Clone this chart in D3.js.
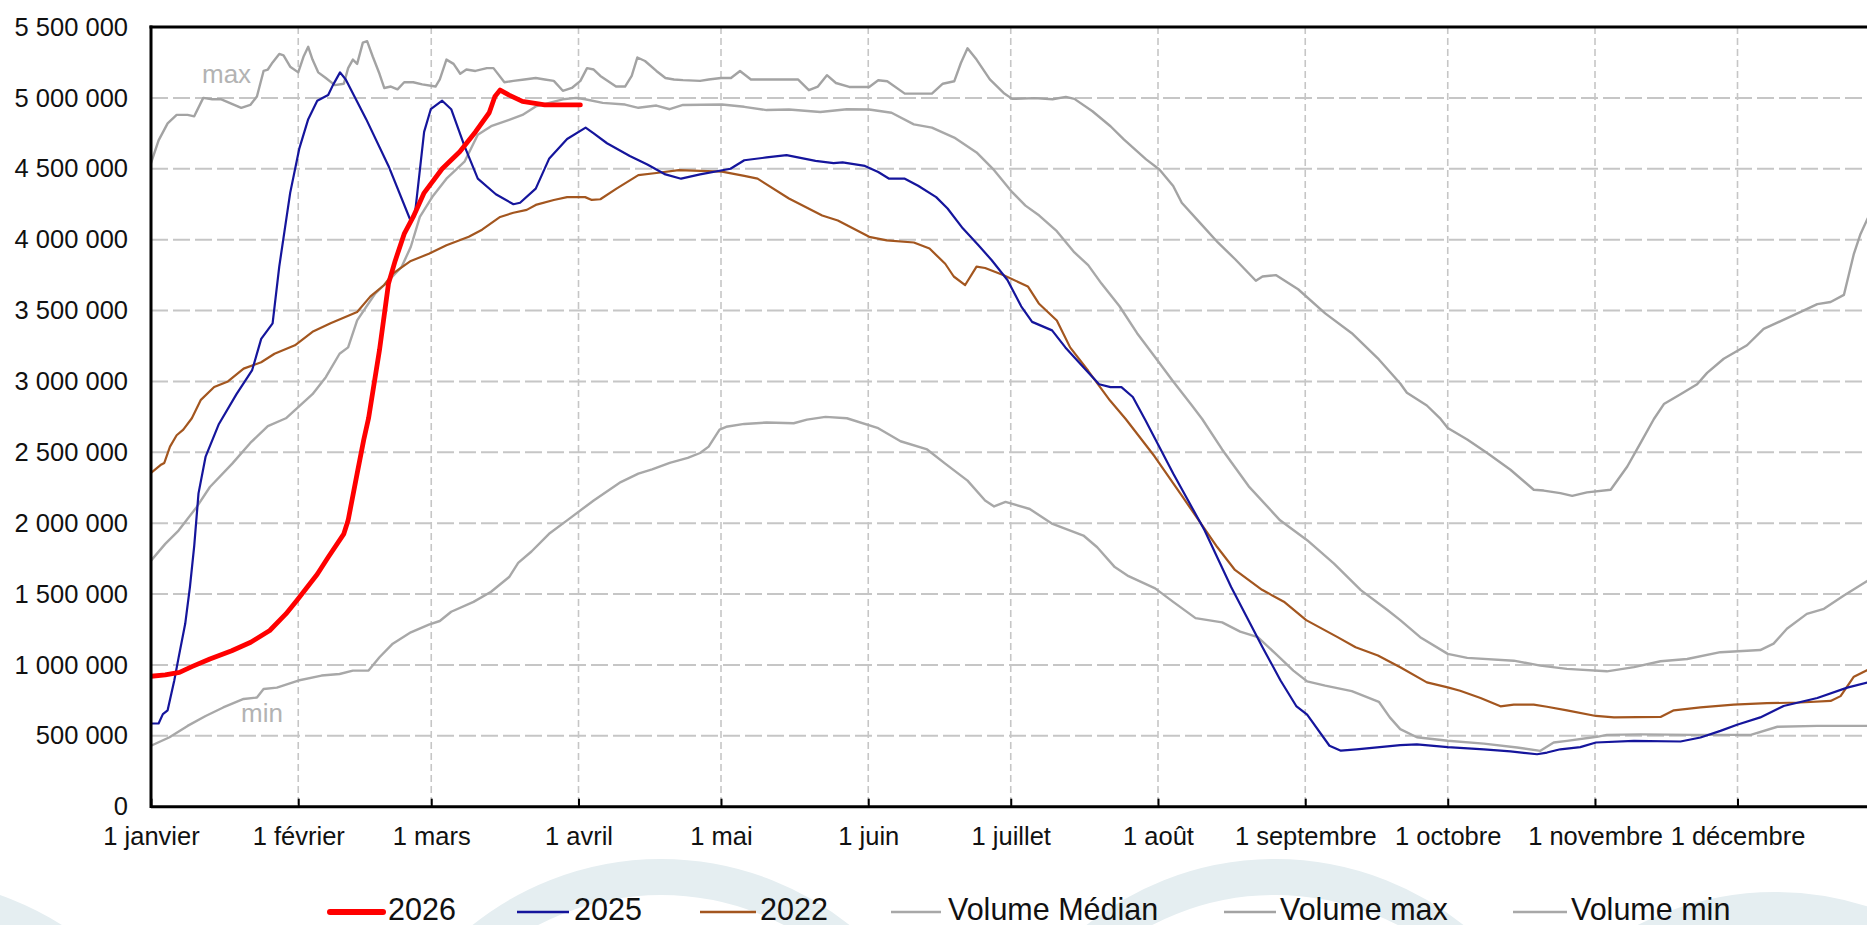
<!DOCTYPE html>
<html><head><meta charset="utf-8">
<script src="https://cdn.jsdelivr.net/npm/d3@7"></script>
<style>
html,body{margin:0;padding:0;background:#fff;overflow:hidden}
svg{display:block;font-family:"Liberation Sans",Arial,sans-serif}
</style></head><body>
<svg id="chart" width="1867" height="925"></svg>
<script>
// ---------- data (day of year, value in thousands of m3) ----------
const monthDays   = [0,31,59,90,120,151,181,212,243,273,304,334];
const monthLabels = ["1 janvier","1 février","1 mars","1 avril","1 mai","1 juin","1 juillet","1 août","1 septembre","1 octobre","1 novembre","1 décembre"];
const yTicks      = [0,500000,1000000,1500000,2000000,2500000,3000000,3500000,4000000,4500000,5000000,5500000];

const days2026 = [0,3,6,8.6,12.4,17,21,25,28.4,30.7,35,37.3,40.6,41.5,43.4,44.8,45.8,48.1,50,51.4,53.3,55.2,57.5,61.3,65,68.3,71.2,72.4,73.5,75.4,78.2,82.9,90.4];
const vals2026 = [920,930,948,988,1042,1100,1160,1243,1360,1455,1640,1760,1925,2020,2350,2590,2740,3220,3690,3850,4040,4160,4330,4500,4620,4760,4895,5010,5055,5020,4975,4950,4950];

const days2025 = [0,1.6,2.5,3.5,4.9,5.8,7.2,8.2,9.1,10,11.5,14.3,18,21.3,23.2,25.6,27,29.3,31.2,33.1,35,37.3,38.3,39.8,41,45.3,50,54.7,55.6,57.5,58.9,61.3,63.2,66,68.8,72.6,76.3,77.7,81,83.8,87.6,91.5,93.2,96,100.8,104.5,108.3,111.6,115.6,122,124.9,129.6,133.8,139.9,143.7,145.6,150.3,153.1,155.4,158.7,161.5,165.3,167.7,170.9,174.2,177,180.3,183.2,185.5,189.7,192.5,196.3,199.6,202,204.3,206.7,209.3,215.2,221.8,227.4,234,237.8,241.1,243.4,248.1,250.5,253.8,263,266.5,273,280.6,286.2,291.8,293.9,296.7,300.9,304.2,312.2,322,326.2,330.4,333.9,338.8,343.7,350.8,357.1,361.4,365];
const vals2025 = [587,587,653,680,890,1050,1290,1550,1840,2210,2470,2700,2910,3080,3300,3410,3810,4330,4640,4850,4980,5020,5090,5180,5130,4850,4520,4130,4190,4760,4920,4980,4920,4660,4430,4320,4250,4260,4360,4570,4710,4790,4750,4680,4590,4530,4460,4430,4460,4500,4560,4580,4596,4556,4540,4545,4520,4477,4430,4430,4380,4300,4220,4080,3960,3855,3715,3530,3420,3360,3240,3100,2980,2960,2960,2890,2730,2350,1950,1550,1125,890,710,650,430,395,405,435,440,420,405,390,370,382,405,420,453,465,460,488,535,578,630,710,767,840,877,890];

const days2022 = [0,2,2.8,4,5.4,6.8,8.6,10.5,13.3,16.2,19.5,23.2,26,30.3,34,37.8,43.4,46.2,49.1,50.9,54.7,58.5,62.2,66.9,69.7,73.5,76.3,79.1,81,84.8,87.6,91.4,92.8,94.6,98,102.6,106.4,111.1,120.2,124.9,127.7,134.3,141.3,144.6,151.2,154.9,160.6,163.9,167.2,169,171.4,173.8,175.6,179.4,184.6,186.9,190.7,193.5,197.3,201.9,205.2,211.3,216.9,221.6,224.5,228.2,233.9,238.5,243.2,249.8,253.6,258.3,263,268.6,273,275.6,279.9,284.1,286.9,291.1,293.9,298.1,304.2,308,317.8,320.6,326.2,333.2,340.2,347.2,353.6,355.7,358.5,361.4,365];
const vals2022 = [2355,2410,2425,2540,2620,2660,2740,2870,2960,3000,3090,3135,3195,3255,3350,3410,3490,3600,3680,3760,3850,3900,3960,4020,4070,4160,4190,4210,4245,4280,4300,4300,4280,4285,4360,4455,4470,4490,4480,4450,4430,4290,4170,4135,4020,3995,3980,3937,3830,3740,3680,3810,3800,3750,3670,3550,3430,3240,3075,2865,2735,2470,2200,1970,1830,1670,1530,1446,1316,1196,1125,1066,984,877,842,818,767,708,720,720,705,680,640,630,633,680,700,720,730,735,746,780,917,965,990];

const daysMed = [0,3,5.8,9.6,12.4,17.1,20.9,24.6,28.4,34,36.8,39.7,41.5,43.4,47.2,50,52.8,54.7,56.6,59.4,62.2,66,68.8,71.6,75.4,78.2,81,86.7,89.5,91.4,95.1,99.8,102.6,106.4,109.2,112,120.2,124.9,129.6,134.3,140.9,146.5,151.2,155.9,160.6,164.4,169.1,173.8,177.5,181.3,184.1,187,190.7,194.4,197.3,200.1,203.9,207.6,211.4,215.2,218.9,221.3,225.5,231.1,237.7,243.4,249,254.7,260.3,263,267.2,273,277.1,286.9,292.5,298.1,306.5,312.2,317.8,323.4,330.4,338.8,341.6,344.4,348.6,352.2,356.4,361.4,365];
const valsMed = [1736,1854,1948,2113,2255,2420,2566,2684,2740,2910,3030,3195,3240,3430,3620,3710,3810,3950,4160,4310,4430,4550,4740,4800,4845,4880,4940,4990,5000,4990,4965,4953,4930,4946,4920,4950,4953,4937,4914,4918,4900,4920,4918,4895,4813,4790,4720,4615,4490,4335,4240,4170,4060,3910,3820,3690,3530,3340,3170,3000,2840,2735,2520,2260,2020,1880,1717,1528,1387,1316,1196,1078,1050,1030,995,972,955,985,1026,1042,1090,1105,1150,1255,1360,1396,1490,1594,1650];

const daysMax = [0,1.6,3.5,5.4,7.7,9.1,11,12.9,14.8,19,20.9,22.3,23.7,24.6,25.6,27,27.9,29.3,31,32.1,33.1,34,35.2,36.8,38.7,40.6,41.5,42.5,43.4,44.6,45.5,46.7,48.1,49.1,50.5,51.9,53.3,55.2,57.1,59.9,60.8,62.2,63.7,65.1,66.4,68.3,70.7,72.1,74.4,76.3,78.6,81,82.9,84.8,86.7,88.6,90.4,91.8,93.2,94.6,97.9,99.8,101.2,102.4,104,106.4,108.3,110.1,112,115.6,117.4,120,122.1,124,126.3,136.2,138.5,140.4,142.3,144.2,147,151.2,153.1,155,158.7,164.4,166.7,169.1,170.5,171.9,173.8,176.6,179.5,181.3,186,189.8,192.6,194.4,198.2,202,204.8,209.5,212.3,215.2,217,220.8,224.6,228.3,232.6,234,236.8,241.5,247.2,252.8,258.5,263,264.4,268.6,271.5,273,277.1,281.3,286.2,291.1,293.2,296.7,299.2,302.3,307.3,310.8,313.6,316.4,318.5,322,325.5,327.6,331.1,336,339.5,347.3,350.8,353.6,356.4,358.5,359.9,361.4,365];
const valsMax = [4540,4700,4820,4880,4880,4870,5000,4990,4990,4930,4950,5010,5190,5200,5250,5310,5300,5220,5180,5290,5360,5270,5180,5140,5090,5100,5210,5270,5240,5390,5400,5290,5170,5070,5080,5060,5110,5110,5095,5080,5130,5270,5240,5170,5200,5190,5210,5210,5110,5120,5130,5140,5130,5120,5050,5070,5120,5210,5200,5155,5080,5080,5155,5285,5260,5190,5140,5130,5125,5120,5130,5140,5140,5190,5130,5130,5054,5080,5160,5105,5077,5077,5124,5117,5030,5030,5100,5117,5246,5350,5270,5130,5035,4993,4998,4990,5007,4993,4906,4800,4707,4566,4495,4378,4260,4120,3980,3860,3710,3740,3750,3650,3480,3340,3155,2985,2920,2830,2735,2672,2590,2495,2377,2236,2230,2212,2193,2217,2236,2400,2566,2735,2840,2910,2980,3060,3160,3255,3370,3490,3545,3560,3610,3900,4040,4150,4300];

const daysMin = [0,3.9,7.7,11.5,15.2,19.5,22.3,23.7,26.5,31,35.9,39.7,42.5,45.8,48.1,50.9,54.7,58.5,60.8,63.2,67.9,71.6,75.4,77.3,80.1,83.8,87.6,93.2,98.9,102.6,105.5,109.2,113,115.6,117.4,119.7,121.1,124.9,129.6,135.3,138.1,142,146.5,153.1,157.8,163.4,167.2,171.9,175.6,177.5,179.9,185,189.8,196.3,199.2,202.9,205.8,211.4,215.2,219.9,225.5,229.3,233,236.8,240.5,243.4,247.2,252.8,258.5,260.8,263,266.5,273,280.6,287.6,292.5,295.3,298.1,304.4,306.5,313.6,324.8,336.8,342.4,350.8,361.4,365];
const valsMin = [430,490,570,640,700,760,770,830,840,890,925,936,960,960,1054,1150,1230,1285,1310,1375,1445,1516,1620,1720,1800,1925,2020,2160,2290,2350,2380,2425,2460,2495,2540,2660,2680,2700,2710,2705,2730,2750,2740,2670,2578,2520,2420,2300,2160,2118,2150,2100,1995,1913,1830,1690,1626,1540,1445,1330,1300,1235,1196,1078,960,884,854,815,740,630,547,490,465,445,418,394,453,464,493,507,510,507,507,564,570,570,570];

const seriesNames  = ["2026","2025","2022","Volume Médian","Volume max","Volume min"];
const seriesColors = ["#ff0000","#15159c","#a3561f","#a8a8a8","#a3a3a3","#a8a8a8"];

// ---------- layout ----------
const svg = d3.select("#chart");
const x = d3.scaleLinear().domain([0,365]).range([151, 151 + 365*4.75]);
const y = d3.scaleLinear().domain([0,5500000]).range([806.7, 27]);
const fr = d3.formatLocale({decimal:",",thousands:" ",grouping:[3],currency:["","€"]});
const fmt = fr.format(",d");

// watermark arcs (background decoration)
const wm = svg.append("g").attr("fill","none").attr("stroke","#e5eef1").attr("stroke-width",36);
[[-100,1180],[661,1161],[1275,1161],[1775,1194]].forEach(c=>{
  wm.append("circle").attr("cx",c[0]).attr("cy",c[1]).attr("r",284);
});

// gridlines
const grid = svg.append("g");
grid.selectAll("line.h").data(yTicks.filter(v=>v>0 && v<5500000)).join("line")
  .attr("x1",151).attr("x2",1867).attr("y1",d=>y(d)).attr("y2",d=>y(d))
  .attr("stroke","#c6c6c6").attr("stroke-width",2).attr("stroke-dasharray","17,5");
grid.selectAll("line.v").data(monthDays.slice(1)).join("line")
  .attr("x1",d=>x(d)).attr("x2",d=>x(d)).attr("y1",27).attr("y2",806.7)
  .attr("stroke","#c6c6c6").attr("stroke-width",1.6).attr("stroke-dasharray","7,4");

// lines
svg.append("clipPath").attr("id","pc").append("rect")
  .attr("x",151).attr("y",27).attr("width",1800).attr("height",780);
const line = d3.line().x(d=>x(d[0])).y(d=>y(d[1]*1000));
const data = [
  [daysMed,valsMed,3,2.4],[daysMax,valsMax,4,2.4],[daysMin,valsMin,5,2.4],
  [days2022,vals2022,2,2.2],[days2025,vals2025,1,2.2],[days2026,vals2026,0,4.8]
];
const lg = svg.append("g").attr("clip-path","url(#pc)");
data.forEach(([ds,vs,ci,w])=>{
  lg.append("path").datum(ds.map((d,i)=>[d,vs[i]]))
    .attr("d",line).attr("fill","none").attr("stroke",seriesColors[ci])
    .attr("stroke-width",w).attr("stroke-linejoin","round").attr("stroke-linecap","round");
});

// max / min labels
svg.append("text").attr("x",202).attr("y",83).text("max").attr("font-size",26).attr("fill","#b3b3b3");
svg.append("text").attr("x",241).attr("y",722).text("min").attr("font-size",26).attr("fill","#b3b3b3");

// axes
const xAxis = d3.axisBottom(x).tickValues(monthDays).tickFormat((d,i)=>monthLabels[i])
  .tickSizeInner(-8).tickSizeOuter(0).tickPadding(20);
const gx = svg.append("g").attr("transform","translate(0,806.7)").call(xAxis);
gx.select(".domain").attr("stroke","#000").attr("stroke-width",3).attr("d","M151,0H1867");
gx.selectAll(".tick line").attr("stroke","#000").attr("stroke-width",2);
gx.selectAll(".tick text").attr("font-size",25.5).attr("fill","#111").attr("font-family","Liberation Sans, Arial");

const yAxis = d3.axisLeft(y).tickValues(yTicks).tickFormat(fmt).tickSize(0).tickPadding(23);
const gy = svg.append("g").attr("transform","translate(151,0)").call(yAxis);
gy.select(".domain").attr("stroke","#000").attr("stroke-width",3).attr("d","M0,25.5V808");
gy.selectAll(".tick text").attr("font-size",25.5).attr("fill","#111").attr("font-family","Liberation Sans, Arial");

// top border
svg.append("line").attr("x1",149.5).attr("x2",1867).attr("y1",27).attr("y2",27)
  .attr("stroke","#000").attr("stroke-width",3);

// legend
const legX = [[330,383,388],[517,569,574],[700,756,760],[891,941,948],[1224,1276,1280],[1513,1567,1571]];
const legW = [6,2.4,2.4,2.4,2.4,2.4];
const leg = svg.append("g");
seriesNames.forEach((n,i)=>{
  leg.append("line").attr("x1",legX[i][0]).attr("x2",legX[i][1]).attr("y1",912).attr("y2",912)
    .attr("stroke",seriesColors[i]).attr("stroke-width",legW[i]).attr("stroke-linecap",i===0?"round":"butt");
  leg.append("text").attr("x",legX[i][2]).attr("y",920).text(n)
    .attr("font-size",30.5).attr("fill","#111");
});
</script>
</body></html>
